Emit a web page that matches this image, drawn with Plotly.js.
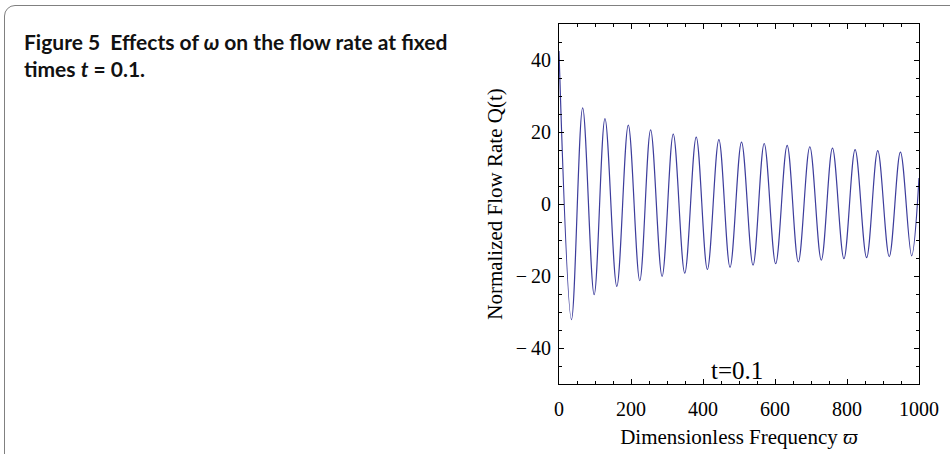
<!DOCTYPE html>
<html>
<head>
<meta charset="utf-8">
<script src="https://cdn.plot.ly/plotly-3.0.1.min.js"></script>
<style>
  html, body { margin: 0; padding: 0; background: #fff; }
  #wrap { position: relative; width: 950px; height: 454px; overflow: hidden; }
  #frame { position: absolute; left: 4px; top: 5px; width: 1000px; height: 500px;
           border: 1.6px solid #808080; border-radius: 11px; box-sizing: border-box; }
  #chart { position: absolute; left: 0; top: 0; width: 950px; height: 454px; }
</style>
</head>
<body>
<div id="wrap">
  <div id="frame"></div>
  <div id="chart"></div>
</div>
<script>
// Values: start point, then alternating troughs / peaks, then end point
const omega = [0, 34.7, 65.7, 97.7, 127.7, 160.6, 192.5, 224.4, 254.5, 286.4, 317.4,
               349.3, 381.2, 412.2, 444.1, 475.1, 507, 539, 570, 601.9, 633.8,
               664.8, 696.7, 728.6, 759.6, 791.5, 822.5, 854.5, 885.4, 917.4, 948.4,
               979.5, 1000];
const flowRate = [42.5, -32.1, 26.7, -25.2, 23.7, -22.9, 21.9, -21.3, 20.6, -20.1, 19.4,
                  -19.2, 18.6, -18.2, 17.9, -17.6, 17.2, -17.0, 16.8, -16.6, 16.3,
                  -16.1, 15.9, -15.6, 15.5, -15.2, 15.1, -14.9, 14.8, -14.6, 14.4,
                  -14.4, 7.2];

const xTickVals = [0, 200, 400, 600, 800, 1000];
const xTickText = ["0", "200", "400", "600", "800", "1000"];
const yTickVals = [-40, -20, 0, 20, 40];
const yTickText = ["\u2212\u200940", "\u2212\u200920", "0", "20", "40"];

const captionLine1 = "Figure 5\u00a0\u00a0Effects of <i>\u03c9</i> on the flow rate at fixed";
const captionLine2 = "times <i>t</i> = 0.1.";
const xTitle = "Dimensionless Frequency <i>\u03d6</i>";
const yTitle = "Normalized Flow Rate Q(t)";
const insideLabel = "t=0.1";

const serif = "Liberation Serif, Times New Roman, serif";

const axisCommon = {
  showline: true, linecolor: "#000", linewidth: 1,
  mirror: "ticks", ticks: "inside", ticklen: 5, tickwidth: 1, tickcolor: "#000",
  showgrid: false, zeroline: false, fixedrange: true,
  tickfont: { family: serif, size: 20, color: "#000" }
};

const layout = {
  width: 950, height: 454,
  margin: { l: 559, r: 31, t: 24, b: 70, pad: 0 },
  paper_bgcolor: "rgba(0,0,0,0)", plot_bgcolor: "rgba(0,0,0,0)",
  showlegend: false,
  xaxis: Object.assign({}, axisCommon, {
    range: [0, 1000], tickmode: "array", tickvals: xTickVals, ticktext: xTickText,
    minor: { dtick: 50, ticklen: 3, tickwidth: 1, tickcolor: "#000", ticks: "inside" },
    ticklabelstandoff: 7,
    title: { text: xTitle, font: { family: serif, size: 21, color: "#000" }, standoff: 10 }
  }),
  yaxis: Object.assign({}, axisCommon, {
    range: [-50, 50], tickmode: "array", tickvals: yTickVals, ticktext: yTickText,
    minor: { dtick: 5, ticklen: 3, tickwidth: 1, tickcolor: "#000", ticks: "inside" },
    ticklabelstandoff: 3,
    title: { text: yTitle, font: { family: serif, size: 21, color: "#000" }, standoff: 7 }
  }),
  annotations: [
    { text: insideLabel, xref: "x", yref: "y", x: 495, y: -46.3, xanchor: "center", yanchor: "middle",
      showarrow: false, font: { family: serif, size: 25, color: "#000" } },
    { text: captionLine1 + "<br>" + captionLine2, xref: "paper", yref: "paper",
      x: (22 - 559) / 360, y: (384 - 27) / 360, xanchor: "left", yanchor: "top", align: "left",
      showarrow: false,
      font: { family: "Lato, Open Sans, sans-serif", size: 21, weight: 700, color: "#111" } }
  ]
};

const trace = {
  x: omega, y: flowRate, type: "scatter", mode: "lines",
  line: { color: "#3d3d9c", width: 1.2, shape: "spline", smoothing: 1 },
  hoverinfo: "skip"
};

Plotly.newPlot("chart", [trace], layout, { displayModeBar: false, staticPlot: true });
</script>
</body>
</html>
